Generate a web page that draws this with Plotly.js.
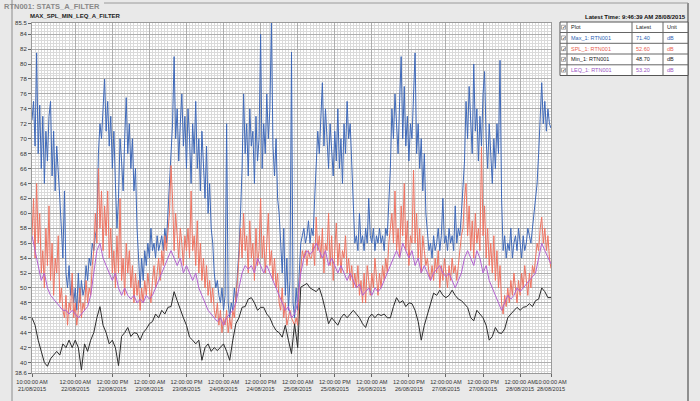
<!DOCTYPE html>
<html><head><meta charset="utf-8">
<script src="https://cdn.plot.ly/plotly-3.0.1.min.js"></script>
<style>html,body{margin:0;padding:0;background:#e9e9e9;overflow:hidden}#chart{width:700px;height:401px}</style>
</head><body><div id="chart"></div><script>
// ---------------- DATA ----------------
const seriesStart = '2015-08-21 10:00';
const fineStepMinutes = 30;   // Max and SPL sampling
const coarseStepMinutes = 60; // Min and LEQ sampling

const maxValues = [
72.5,75,69,81.5,68,74.5,66,73,64,71,67,73,75,65,71,63,69,66,62,58,54,
63,52,50,53,49,51,48,50,47,52,48,51,49,50,53,51,54,53,56,55,57,58,
68,72,70,74,78,71,75,69,73,66,71,64,58,62,70,67,63,70,75.5,68,72,66,70,63,66,58,
53,50,54,51,55,53,56,54,58,55,56,54,57,55,56,57,55,58,56,60,64,68,
72,81,70,74,67,72,76,69,73,66,74,70,64,72,68,75,66,70,63,71,67,62,69,60,64,58,56,52,
50,51,49,48,50,47,49,72,48,46,48,47,50,48,52,55,60,66,
76,68,72,65,74,69,71,64,73,67,70,84,66,72,68,76,70,74,85.5,69,65,70,62,60,
56,52,58,49,54,47,51,81.6,48,46,50,47,52,56,57,58,56,57,59,56,58,57,62,66,
71,68,73,77.5,69,74,70,66,72,68,65,71,67,74,66,70,64,72,68,75,70,72,66,60,
56,57,55,60,56,57,55,58,56,62,57,56,58,55,57,56,58,56,57,55,58,57,62,66,
74,70,76,72,68,75,81,70,77,69,73,67,72,70,75,81.5,68,72,66,70,63,68,60,57,
55,56,54,57,55,56,58,55,57,62,56,57,55,58,56,57,55,61,56,58,57,60,63,67,
75,70,77,72,68,80,71,74,67,73,69,76,79,70,66,72,68,64,70,66,72,68,80.5,62,
55,57,54,56,55,58,54,56,57,55,58,56,54,57,55,56,58,57,56,58,60,62,64,68,
73,77.5,72,75,71,74,72,71.4
];

const splValues = [
57,62,54,64,56,60,52,
55,50,58,53,61,51,56,49,54,52,57,48,50,47,
46,49,45,48,47,52,46,48,45,47,50,46,48,47,51,48,50,49,53,55,
60,56,66,58,63,55,61,57,63,54,58,52,
55,50,57,52,62,51,54,49,56,52,55,50,53,48,52,49,51,47,
50,48,51,49,52,50,48,51,53,50,52,54,51,55,53,57,
55,58,60,66.4,62,55,60,57,54,58,56,53,57,55,
58,54,63,55,57,53,59,52,56,51,54,50,53,49,51,48,50,47,
46,48,45,47,44,46,45,47,44,46,44.5,47,46,49,51,54,
58,54,60,55,57,52,59,54,56,51,58,53,55,62,54,57,52,56,60,53,55,51,54,50,52,48,
47,50,46,48,45,46,47,46,45.5,45,46,45,50,53,
55,54,55,53,55,54,54,56,53,59.5,55,57,
54,58,52,56,55,60,53,57,51,55,58.7,53,56,52,55,54,57,52,54,51,53,50,
52,50,53,49,51,48,52,48,53,51,49,52,50,54,51,49,52,50,53,51,54,52,56,58,
60,56,63,55,58,54,61,57,64,55,59,53,57,56,65.8,56,60,54,58,52,57,55,53,54,52,51,
53,51,54,52,55,50,53,51,54,52,50,53,51,54,52,53,51,53,55,57,
58,62,64,57,61,55,59,54,60,56,58,55,68.9,57,61,54,58,53,56,52,57,51,55,50,53,48,
46.5,49,47.5,50,48,51,49,52,50,48,51,49,52,50,53,51,49,52,50,53,52,54,56,55,
58,59.5,56,58,55,57,54,52.6
];

const minValues = [
46,45,43,41.5,40,39.5,40.5,41,41.5,41,42.5,42,43,42,43,42,39,42.5,41.5,43,
44,46,47.5,45,44,42.5,43,42,39.6,43.5,44,44.7,43.5,44,43.9,43,44,44.5,45.2,45.5,
46.5,46,47,46.5,47.4,47.5,49.5,48.3,47,46,45,43.4,43,42.5,43,40.3,42,42.5,41.5,42,
41.6,42,42.5,41.5,40.3,43,45.2,46,47.4,47.5,48.5,48.7,48,47,47.4,47.4,46.5,46,45,44.3,
44,43.4,45,43,41.2,45.2,42,50.1,50.3,50.6,50,49.7,49.5,50,48.7,47,45.2,46,45.5,45,
46,46.5,46,46.5,47,46.5,46,45.2,44.7,46,46.5,46,46.5,46.3,46.5,46,46,47.5,48.7,48,
48.3,47.5,48,47.9,47,45.5,43,45,46.5,48,49.3,49,49.7,49,48.7,49,49.7,49,48.5,48.3,
47.8,47.4,46,45.6,47,46.5,46,45,43,43.5,44.7,44,43.9,44.5,46,46.5,47,47.4,47,47.4,
47.5,47.9,47.5,48.3,48.5,50,49.5,48.7,48.7
];

const leqValues = [
57,55,53,51,52,50,49,48.5,48,47.5,47,47,46.5,47,46.5,46,46.5,47,47.5,49,
52,55,56,54,53,52,51,52,50,49,50,49,48.5,49,48,48.5,48,49,48.5,49,
50,51,52,53,54,55,54,53,54,52,53,52,51,52,50,49,48,47,46.5,46,
45.5,46,45,46,46.5,47,48,50,52,53,52.5,53,52,54,53,52,53,52,51,50,
49,48,47,47.5,46,46.5,48,52,54,55,54.5,55,56,55,54,55,53,54,53,52,
53,52,51,52,51,50,50.5,49,49.5,50,49,50,49.5,50,51,52,53,54,55,54,
56,55,54,55,53,54,52,53,52,51,52,52.5,53,52,51.5,52,51,50,51,52,
54,55,54,53,55,54,52,53,51,50,49,48,47,48,49,48.5,49,50,49.5,50,
50.5,51,51.5,52,54,56,55,54,53.2
];

const seriesNames = ['Max_1: RTN001','SPL_1: RTN001','Min_1: RTN001','LEQ_1: RTN001'];
const latestValues = ['71.40','52.60','48.70','53.20'];
const unitLabels = ['dB','dB','dB','dB'];

const xTickVals = ['2015-08-21 10:00','2015-08-22 00:00','2015-08-22 12:00','2015-08-23 00:00','2015-08-23 12:00',
 '2015-08-24 00:00','2015-08-24 12:00','2015-08-25 00:00','2015-08-25 12:00','2015-08-26 00:00',
 '2015-08-26 12:00','2015-08-27 00:00','2015-08-27 12:00','2015-08-28 00:00','2015-08-28 10:00'];
const xTickText = ['10:00:00 AM<br>21/08/2015','12:00:00 AM<br>22/08/2015','12:00:00 PM<br>22/08/2015',
 '12:00:00 AM<br>23/08/2015','12:00:00 PM<br>23/08/2015','12:00:00 AM<br>24/08/2015','12:00:00 PM<br>24/08/2015',
 '12:00:00 AM<br>25/08/2015','12:00:00 PM<br>25/08/2015','12:00:00 AM<br>26/08/2015','12:00:00 PM<br>26/08/2015',
 '12:00:00 AM<br>27/08/2015','12:00:00 PM<br>27/08/2015','12:00:00 AM<br>28/08/2015','10:00:00 AM<br>28/08/2015'];
const yTickVals = [38.6,40,42,44,46,48,50,52,54,56,58,60,62,64,66,68,70,72,74,76,78,80,82,84,85.5];
const yTickText = ['38.6','40','42','44','46','48','50','52','54','56','58','60','62','64','66','68','70','72','74','76','78','80','82','84','85.5'];

// ---------------- BUILD ----------------
function makeTimes(n, stepMin){
  const t0 = Date.parse(seriesStart.replace(' ','T')+':00Z');
  const out = [];
  for(let i=0;i<n;i++){
    const d = new Date(t0 + i*stepMin*60000);
    out.push(d.toISOString().slice(0,16).replace('T',' '));
  }
  return out;
}

const colors = ['#3f69b8','#ee7462','#2b2b2b','#b262cf'];
const L = 32, R = 149, T = 23, B = 28, W = 700, H = 401;
const PW = W-L-R, PH = H-T-B;
const px = x => (x-L)/PW;
const py = y => (H-B-y)/PH;

const traces = [
  {x: makeTimes(maxValues.length, fineStepMinutes), y: maxValues, name: seriesNames[0]},
  {x: makeTimes(splValues.length, fineStepMinutes), y: splValues, name: seriesNames[1]},
  {x: makeTimes(minValues.length, coarseStepMinutes), y: minValues, name: seriesNames[2]},
  {x: makeTimes(leqValues.length, coarseStepMinutes), y: leqValues, name: seriesNames[3]}
].map((t,i)=>Object.assign(t,{type:'scatter',mode:'lines',line:{color:colors[i],width:1},hoverinfo:'skip'}));

const font = 'Liberation Sans, Arial, sans-serif';
const shapes = [];
const annotations = [];

// frame lines
shapes.push({type:'line',xref:'paper',yref:'paper',x0:px(12),x1:px(12),y0:py(0),y1:py(401),line:{color:'#8c8c8c',width:1}});
shapes.push({type:'line',xref:'paper',yref:'paper',x0:px(688),x1:px(688),y0:py(3),y1:py(401),line:{color:'#707070',width:1.5}});
shapes.push({type:'line',xref:'paper',yref:'paper',x0:px(104),x1:px(688),y0:py(3),y1:py(3),line:{color:'#9a9a9a',width:1}});

annotations.push({xref:'paper',yref:'paper',x:px(2),y:py(7),xanchor:'left',yanchor:'middle',showarrow:false,
  text:'<b>RTN001: STATS_A_FILTER</b>',font:{family:font,size:7.5,color:'#8a8a8a'}});
annotations.push({xref:'paper',yref:'paper',x:px(28),y:py(16),xanchor:'left',yanchor:'middle',showarrow:false,
  text:'<b>MAX_SPL_MIN_LEQ_A_FILTER</b>',font:{family:font,size:6,color:'#222'}});
annotations.push({xref:'paper',yref:'paper',x:px(688),y:py(17),xanchor:'right',yanchor:'middle',showarrow:false,
  text:'<b>Latest Time: 9:46:39 AM 28/08/2015</b>',font:{family:font,size:6,color:'#111'}});

// table
const tx = [560,567,632,663,688];
const ty = [22,32.5,43.3,54,64.8,75.5];
shapes.push({type:'rect',xref:'paper',yref:'paper',x0:px(tx[0]),x1:px(tx[4]),y0:py(ty[0]),y1:py(ty[5]),fillcolor:'#ffffff',line:{color:'#555',width:1}});
for(let k=1;k<tx.length-1;k++) shapes.push({type:'line',xref:'paper',yref:'paper',x0:px(tx[k]),x1:px(tx[k]),y0:py(ty[0]),y1:py(ty[5]),line:{color:'#666',width:1}});
for(let k=1;k<ty.length-1;k++) shapes.push({type:'line',xref:'paper',yref:'paper',x0:px(tx[0]),x1:px(tx[4]),y0:py(ty[k]),y1:py(ty[k]),line:{color:'#666',width:1}});
const headers = ['Plot','Latest','Unit'];
const rowColors = ['#2f5fb3','#e8604f','#222','#9b55c4'];
for(let r=0;r<5;r++){
  const yc = (ty[r]+ty[r+1])/2;
  shapes.push({type:'rect',xref:'paper',yref:'paper',x0:px(561.5),x1:px(565.5),y0:py(yc-2),y1:py(yc+2),fillcolor:'#fff',line:{color:'#777',width:0.6}});
  annotations.push({xref:'paper',yref:'paper',x:px(563.5),y:py(yc),xanchor:'center',yanchor:'middle',showarrow:false,text:'✓',font:{family:'DejaVu Sans',size:5,color:'#222'}});
  let texts, col;
  if(r===0){ texts = headers; col = '#222'; }
  else { texts = [seriesNames[r-1], latestValues[r-1], unitLabels[r-1]]; col = rowColors[r-1]; }
  for(let c=0;c<3;c++){
    annotations.push({xref:'paper',yref:'paper',x:px(tx[c+1]+2),y:py(yc),xanchor:'left',yanchor:'middle',showarrow:false,
      text:texts[c],font:{family:font,size:5.5,color:col}});
  }
}

const layout = {
  width:W,height:H,
  margin:{l:L,r:R,t:T,b:B,pad:0},
  paper_bgcolor:'#e9e9e9',plot_bgcolor:'#ffffff',
  showlegend:false,
  xaxis:{type:'date',range:['2015-08-21 10:00','2015-08-28 10:00'],tickmode:'array',tickvals:xTickVals,ticktext:xTickText,
    tickangle:0,tickfont:{family:font,size:5.6,color:'#333'},ticks:'outside',ticklen:3,tickcolor:'#666',
    showgrid:true,gridcolor:'#aeaeae',gridwidth:1,
    minor:{dtick:3600000,tick0:'2015-08-21 10:00',showgrid:true,gridcolor:'#dadada',gridwidth:1},
    showline:true,linecolor:'#9a9a9a',mirror:true,zeroline:false},
  yaxis:{range:[38.6,85.5],tickmode:'array',tickvals:yTickVals,ticktext:yTickText,
    tickfont:{family:font,size:6,color:'#333'},ticks:'outside',ticklen:3,tickcolor:'#666',
    showgrid:true,gridcolor:'#aeaeae',gridwidth:1,
    minor:{dtick:0.4,tick0:40,showgrid:true,gridcolor:'#dadada',gridwidth:1},
    showline:true,linecolor:'#9a9a9a',mirror:true,zeroline:false},
  shapes:shapes,annotations:annotations
};
Plotly.newPlot('chart',traces,layout,{staticPlot:true,displayModeBar:false});
</script></body></html>
